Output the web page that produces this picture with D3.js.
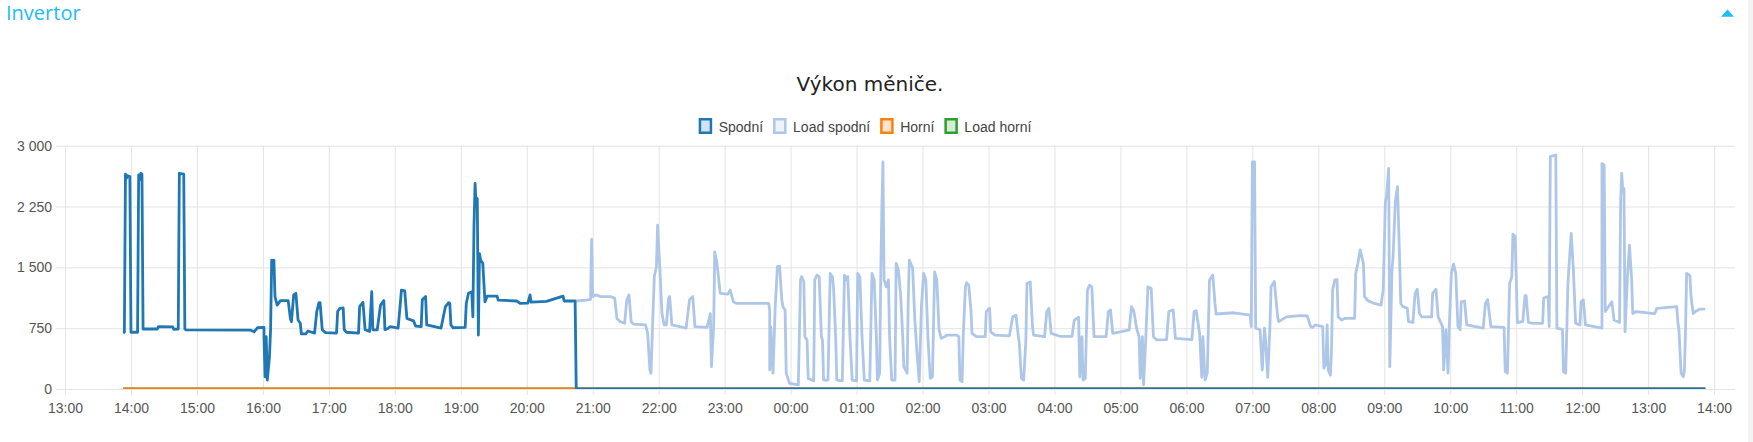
<!DOCTYPE html>
<html>
<head>
<meta charset="utf-8">
<script src="https://cdn.jsdelivr.net/npm/d3@7"></script>
<style>
  html, body { margin: 0; padding: 0; background: #fff; }
  svg { display: block; }
  .tick text { font-family: "Liberation Sans", Arial, sans-serif; font-size: 14px; fill: #555; }
</style>
</head>
<body>
<svg id="chart" width="1753" height="442"></svg>
<script>
// series: [time "HH:MM", value in W]; times roll over midnight
var spodni = [
  ["13:53",690],["13:54",700],["13:55",2650],["13:56",2600],["13:57",2630],["13:59",2620],["14:00",700],["14:06",700],
  ["14:07",2640],["14:08",2580],["14:09",2660],["14:10",2650],["14:11",740],["14:24",740],["14:25",770],["14:38",765],
  ["14:39",735],["14:43",740],["14:44",2660],["14:48",2650],["14:49",740],["14:50",730],["15:49",725],["15:52",705],
  ["15:55",755],["16:01",760],["16:01",645],["16:02",150],["16:03",150],["16:03",645],["16:04",110],["16:06",400],
  ["16:07",730],["16:08",1590],["16:09",1425],["16:10",1590],["16:11",1140],["16:13",1035],["16:16",1090],["16:23",1090],
  ["16:25",870],["16:26",830],["16:28",1160],["16:30",1180],["16:32",850],["16:34",810],["16:35",680],["16:39",680],
  ["16:41",715],["16:47",690],["16:49",955],["16:51",1065],["16:52",1065],["16:54",730],["16:57",695],["17:07",690],
  ["17:08",955],["17:10",995],["17:13",1000],["17:14",730],["17:16",700],["17:27",690],["17:28",1015],["17:31",1070],
  ["17:33",730],["17:37",710],["17:39",1200],["17:40",730],["17:44",730],["17:47",1035],["17:50",1090],["17:51",730],
  ["17:54",750],["17:56",770],["18:03",750],["18:05",1055],["18:06",1220],["18:09",1210],["18:11",870],["18:17",840],
  ["18:19",775],["18:24",770],["18:25",1100],["18:28",1140],["18:29",790],["18:42",750],["18:46",1015],["18:49",1065],
  ["18:50",1055],["18:51",790],["18:53",755],["19:04",760],["19:05",1055],["19:07",1180],["19:10",1200],["19:11",890],
  ["19:12",2000],["19:13",2535],["19:14",2250],["19:15",2350],["19:16",665],["19:17",1670],["19:18",1590],["19:20",1550],
  ["19:22",1075],["19:24",1145],["19:33",1145],["19:34",1095],["19:51",1085],["19:54",1055],["20:01",1060],["20:03",1160],
  ["20:04",1070],["20:18",1080],["20:33",1145],["20:34",1085],["20:44",1085],["20:45",0],["13:52",0]
];

var loadSpodni = [
  ["20:45",1085],["20:54",1095],["20:58",1105],["20:59",1845],["21:00",1140],["21:03",1160],["21:07",1140],["21:16",1140],
  ["21:20",1120],["21:22",870],["21:25",830],["21:29",810],["21:31",1100],["21:33",1160],["21:35",830],["21:37",800],
  ["21:48",790],["21:50",685],["21:52",235],["21:53",195],["21:54",605],["21:56",1385],["21:58",1510],["21:59",2020],
  ["22:01",1510],["22:03",930],["22:05",790],["22:07",790],["22:09",1120],["22:10",1140],["22:12",790],["22:25",750],
  ["22:28",1100],["22:31",1140],["22:33",770],["22:44",760],["22:47",930],["22:48",275],["22:50",770],["22:51",1690],
  ["22:53",1550],["22:56",1180],["23:03",1170],["23:05",1220],["23:08",1075],["23:11",1055],["23:40",1055],["23:41",975],
  ["23:41",235],["23:42",770],["23:44",195],["23:46",1015],["23:48",1510],["23:50",1515],["23:52",1100],["23:53",1015],
  ["23:55",975],["23:56",195],["23:59",70],["00:07",50],["00:08",685],["00:09",1345],["00:10",1385],["00:12",1325],
  ["00:13",645],["00:15",605],["00:16",130],["00:21",100],["00:22",1345],["00:24",1405],["00:26",1385],["00:28",645],
  ["00:29",605],["00:30",110],["00:34",110],["00:36",1425],["00:38",1385],["00:39",1260],["00:41",645],["00:42",110],
  ["00:47",100],["00:49",1405],["00:51",1345],["00:52",1385],["00:54",645],["00:56",110],["01:00",100],["01:01",1425],
  ["01:03",1385],["01:05",645],["01:07",110],["01:12",100],["01:14",1425],["01:16",1345],["01:18",645],["01:19",110],
  ["01:21",195],["01:22",1425],["01:23",2230],["01:24",2800],["01:25",1345],["01:27",1260],["01:29",1345],["01:30",645],
  ["01:32",110],["01:35",110],["01:36",1550],["01:38",1470],["01:40",1180],["01:42",645],["01:43",275],["01:46",195],
  ["01:47",1100],["01:48",1590],["01:51",1490],["01:53",850],["01:55",440],["01:57",90],["01:59",1015],["02:01",1425],
  ["02:03",1345],["02:05",605],["02:07",130],["02:09",150],["02:11",1445],["02:13",1345],["02:15",730],["02:17",625],
  ["02:20",645],["02:22",665],["02:31",665],["02:33",645],["02:34",110],["02:36",90],["02:37",645],["02:39",1260],
  ["02:40",1310],["02:42",1280],["02:44",975],["02:45",685],["02:49",645],["02:57",645],["02:58",955],["03:01",995],
  ["03:02",705],["03:06",665],["03:19",655],["03:22",890],["03:25",910],["03:27",665],["03:28",565],["03:30",130],
  ["03:32",110],["03:34",605],["03:35",1300],["03:38",1320],["03:40",770],["03:41",665],["03:51",645],["03:53",955],
  ["03:55",995],["03:57",685],["04:05",650],["04:16",650],["04:18",850],["04:22",885],["04:23",150],["04:25",645],
  ["04:26",110],["04:28",130],["04:30",1220],["04:32",1280],["04:34",1260],["04:36",645],["04:47",645],["04:49",955],
  ["04:51",975],["04:53",685],["05:00",705],["05:08",730],["05:10",1015],["05:12",975],["05:15",730],["05:17",645],
  ["05:18",130],["05:20",645],["05:21",50],["05:23",605],["05:25",1260],["05:28",1240],["05:30",645],["05:33",605],
  ["05:42",610],["05:44",955],["05:48",975],["05:50",625],["06:05",610],["06:07",955],["06:09",965],["06:12",685],
  ["06:14",145],["06:15",645],["06:17",110],["06:19",195],["06:21",1345],["06:24",1405],["06:26",1055],["06:27",925],
  ["06:43",940],["06:58",910],["06:59",770],["07:00",2800],["07:02",2800],["07:03",750],["07:07",730],["07:09",235],
  ["07:11",750],["07:12",605],["07:14",145],["07:16",770],["07:17",1260],["07:20",1325],["07:23",890],["07:24",830],
  ["07:31",890],["07:43",905],["07:50",900],["07:53",770],["07:55",760],["07:57",790],["08:04",770],["08:05",255],
  ["08:07",315],["08:08",790],["08:09",235],["08:11",170],["08:12",480],["08:13",1220],["08:15",1345],["08:17",1350],
  ["08:18",890],["08:21",850],["08:24",870],["08:33",870],["08:34",1425],["08:36",1550],["08:38",1715],["08:41",1550],
  ["08:42",1140],["08:45",1090],["08:50",1060],["08:57",1035],["08:59",1220],["09:01",2310],["09:02",2370],["09:04",2720],
  ["09:05",275],["09:07",1465],["09:08",1630],["09:10",2310],["09:12",2495],["09:13",2040],["09:15",1055],["09:17",1015],
  ["09:21",995],["09:22",830],["09:26",820],["09:28",1180],["09:30",1230],["09:32",930],["09:34",890],["09:43",890],
  ["09:44",1180],["09:47",1230],["09:49",890],["09:53",770],["09:54",235],["09:56",730],["09:58",195],["09:59",730],
  ["10:01",1425],["10:03",1540],["10:05",1425],["10:07",770],["10:09",730],["10:10",1075],["10:13",1085],["10:15",790],
  ["10:30",750],["10:32",1055],["10:34",1100],["10:37",770],["10:49",760],["10:50",215],["10:52",195],["10:54",1300],
  ["10:56",1385],["10:57",1910],["10:59",1880],["11:00",1385],["11:01",820],["11:06",830],["11:08",1150],["11:09",1150],
  ["11:11",820],["11:15",810],["11:24",810],["11:25",1120],["11:29",1140],["11:30",770],["11:31",2865],["11:36",2885],
  ["11:37",750],["11:42",735],["11:43",215],["11:45",195],["11:46",730],["11:47",1300],["11:50",1920],["11:52",1465],
  ["11:54",810],["11:58",790],["11:59",1075],["12:01",1100],["12:03",790],["12:18",750],["12:18",2780],["12:20",2760],
  ["12:21",955],["12:25",1035],["12:27",1075],["12:29",850],["12:34",820],["12:35",2330],["12:36",2660],["12:37",2430],
  ["12:38",2470],["12:39",705],["12:41",1345],["12:43",1775],["12:45",1345],["12:46",930],["12:49",955],["13:06",930],
  ["13:08",995],["13:26",1015],["13:27",830],["13:28",730],["13:30",195],["13:32",150],["13:33",235],["13:34",730],
  ["13:35",1425],["13:38",1400],["13:39",1140],["13:41",930],["13:43",955],["13:47",985],["13:52",985]
];

var horni = [["13:53",0],["13:52",0]];
var loadHorni = [["13:53",0],["13:52",0]];

var seriesNames = ["Spodní", "Load spodní", "Horní", "Load horní"];
var seriesColors = ["31,119,180", "174,199,232", "255,127,14", "44,160,44"];
var yTicks = [0, 750, 1500, 2250, 3000];

//Turns "HH:MM" rows into dates, adding a day each time the clock goes backwards
function toPoints(rows) {
  var day = 0, prev = null;
  return rows.map(function (r) {
    var hm = r[0].split(":").map(Number);
    var d = new Date(2024, 0, 1 + day, hm[0], hm[1]);
    if (prev && d < prev) { day++; d = new Date(2024, 0, 1 + day, hm[0], hm[1]); }
    prev = d;
    return { t: d, v: r[1] };
  });
}

var svg = d3.select("svg#chart");
var plotLeft = 65, plotRight = 1735, plotTop = 145.7, plotBottom = 389;

var x = d3.scaleTime()
  .domain([new Date(2024, 0, 1, 13, 0), new Date(2024, 0, 2, 14, 19)])
  .range([plotLeft, plotRight]);
var y = d3.scaleLinear().domain([0, 3000]).range([plotBottom, plotTop]);

var fmt = d3.formatLocale({ decimal: ",", thousands: "\u00a0", grouping: [3], currency: ["", ""] }).format(",");

//Header
svg.append("rect").attr("x", 1748).attr("y", 0).attr("width", 5).attr("height", 442).attr("fill", "#f4f4f4");
svg.append("text")
    .attr("x", 6).attr("y", 20)
    .style("font-family", "'Open Sans', sans-serif").style("font-size", "20px")
    .attr("fill", "#20bdf4")
    .text("Invertor");
svg.append("path")
    .attr("d", "M1721,16.7L1734,16.7L1727.5,9.5Z")
    .attr("fill", "#20bdf4");

//Title
svg.append("text")
    .attr("x", 870).attr("y", 91)
    .attr("text-anchor", "middle")
    .style("font-family", "'DejaVu Sans', sans-serif").style("font-size", "20px")
    .attr("fill", "#222")
    .text("Výkon měniče.");

//Gridlines + axes
var gy = svg.append("g")
    .attr("transform", "translate(56,0)")
    .call(d3.axisLeft(y).tickValues(yTicks).tickFormat(fmt).tickSize(-(plotRight - 56)).tickPadding(4));
gy.select(".domain").remove();
gy.selectAll(".tick line").attr("stroke", "#e4e4e4");

var gx = svg.append("g")
    .attr("transform", "translate(0,395)")
    .call(d3.axisBottom(x).ticks(d3.timeHour.every(1)).tickFormat(d3.timeFormat("%H:%M"))
      .tickSize(-(395 - plotTop)).tickPadding(8));
gx.select(".domain").remove();
gx.selectAll(".tick line").attr("stroke", "#e4e4e4");

//Lines, clipped to the plot area
svg.append("clipPath").attr("id", "plotClip")
  .append("rect").attr("x", plotLeft).attr("y", plotTop - 2)
  .attr("width", plotRight - plotLeft).attr("height", plotBottom - plotTop + 2);

var line = d3.line()
  .x(function (d) { return x(d.t); })
  .y(function (d) { return y(d.v); });

var data = [spodni, loadSpodni, horni, loadHorni];
var plot = svg.append("g").attr("clip-path", "url(#plotClip)");
//Draw last series first so "Spodní" ends on top
for (var i = data.length - 1; i >= 0; i--) {
  plot.append("path")
      .datum(toPoints(data[i]))
      .attr("fill", "none")
      .attr("stroke", "rgb(" + seriesColors[i] + ")")
      .attr("stroke-width", 2.8)
      .attr("stroke-linejoin", "round")
      .attr("d", line);
}

//Legend
var legend = svg.append("g");
var items = legend.selectAll("g").data(seriesNames).enter().append("g");
items.append("rect")
    .attr("x", 1.25).attr("y", 119.25).attr("width", 11).attr("height", 13.5)
    .attr("fill", function (d, i) { return "rgba(" + seriesColors[i] + ",0.2)"; })
    .attr("stroke", function (d, i) { return "rgb(" + seriesColors[i] + ")"; })
    .attr("stroke-width", 2.5);
items.append("text")
    .attr("x", 20).attr("y", 131.5)
    .style("font-family", "'Liberation Sans', Arial, sans-serif").style("font-size", "14px")
    .attr("fill", "#444")
    .text(function (d) { return d; });
var pos = 0;
items.each(function () {
  var w = 20 + d3.select(this).select("text").node().getComputedTextLength();
  d3.select(this).attr("transform", "translate(" + pos + ",0)");
  pos += w + 10;
});
legend.attr("transform", "translate(" + (865 - (pos - 10) / 2) + ",0)");
</script>
</body>
</html>
